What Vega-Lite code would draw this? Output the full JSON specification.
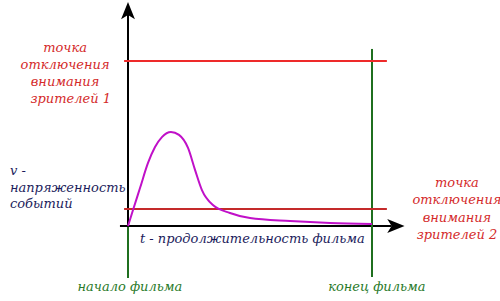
{
  "$schema": "https://vega.github.io/schema/vega-lite/v6.json",
  "width": 500,
  "height": 301,
  "padding": 0,
  "autosize": "none",
  "background": "white",
  "config": {"view": {"stroke": null}},
  "resolve": {"scale": {"color": "independent"}},
  "datasets": {
    "segments": [
      {"item": "ось v", "kind": "axis", "t": 0, "t2": 0, "v": -1.2, "v2": 128},
      {"item": "ось t", "kind": "axis", "t": -3.3, "t2": 108, "v": 0, "v2": 0},
      {"item": "начало фильма", "kind": "film", "t": 0, "t2": 0, "v": -0.5, "v2": -31.5},
      {"item": "конец фильма", "kind": "film", "t": 100, "t2": 100, "v": 107.3, "v2": -30.9},
      {"item": "порог 1", "kind": "limit1", "t": -1.6, "t2": 106.1, "v": 100, "v2": 100},
      {"item": "порог 2", "kind": "limit2", "t": -1.6, "t2": 106.1, "v": 10.3, "v2": 10.3}
    ],
    "arrows": [
      {"axis": "v", "t": 0, "v": 130.5, "angle": 0},
      {"axis": "t", "t": 109.8, "v": 0, "angle": 90}
    ],
    "curve": [
      {"t": 0, "v": 0},
      {"t": 2.05, "v": 9.7},
      {"t": 4.92, "v": 23.0},
      {"t": 8.2, "v": 38.2},
      {"t": 11.07, "v": 47.9},
      {"t": 13.9, "v": 53.9},
      {"t": 17.6, "v": 57.0},
      {"t": 20.9, "v": 55.2},
      {"t": 24.6, "v": 47.3},
      {"t": 27.5, "v": 33.9},
      {"t": 30.3, "v": 21.8},
      {"t": 34.8, "v": 12.7},
      {"t": 41.8, "v": 7.9},
      {"t": 50, "v": 4.8},
      {"t": 66.4, "v": 3.0},
      {"t": 82.8, "v": 1.8},
      {"t": 100, "v": 1.2}
    ],
    "labels": [
      {"group": "limit", "text": "точка", "t": -25.8, "v": 107.9, "align": "center"},
      {"group": "limit", "text": "отключения", "t": -25.8, "v": 97.6, "align": "center"},
      {"group": "limit", "text": "внимания", "t": -25.8, "v": 87.3, "align": "center"},
      {"group": "limit", "text": "зрителей  1", "t": -23.5, "v": 77.0, "align": "center"},
      {"group": "limit", "text": "точка", "t": 134.8, "v": 26.1, "align": "center"},
      {"group": "limit", "text": "отключения", "t": 134.8, "v": 15.8, "align": "center"},
      {"group": "limit", "text": "внимания", "t": 134.8, "v": 5.0, "align": "center"},
      {"group": "limit", "text": "зрителей 2", "t": 134.8, "v": -5.5, "align": "center"},
      {"group": "variable", "text": "v -", "t": -48.4, "v": 33.3, "align": "left"},
      {"group": "variable", "text": "напряженность", "t": -48.4, "v": 23.0, "align": "left"},
      {"group": "variable", "text": "событий", "t": -48.4, "v": 13.3, "align": "left"},
      {"group": "variable", "text": "t  - продолжительность фильма", "t": 4.9, "v": -7.9, "align": "left"},
      {"group": "film", "text": "начало фильма", "t": 0.8, "v": -37, "align": "center"},
      {"group": "film", "text": "конец фильма", "t": 102, "v": -37, "align": "center"}
    ]
  },
  "layer": [
    {
      "data": {"name": "segments"},
      "mark": {"type": "rule", "strokeWidth": 2},
      "encoding": {
        "x": {"field": "t", "type": "quantitative", "scale": {"domain": [-52.46, 152.46], "nice": false, "zero": false}, "axis": null},
        "x2": {"field": "t2"},
        "y": {"field": "v", "type": "quantitative", "scale": {"domain": [-45.45, 136.97], "nice": false, "zero": false}, "axis": null},
        "y2": {"field": "v2"},
        "color": {"field": "kind", "type": "nominal", "legend": null,
          "scale": {"domain": ["axis", "film", "limit1", "limit2"], "range": ["#000000", "#1f6f1f", "#ee2a2a", "#c42a2a"]}}
      }
    },
    {
      "data": {"name": "curve"},
      "mark": {"type": "line", "color": "#c010c8", "strokeWidth": 2, "interpolate": "monotone"},
      "encoding": {
        "x": {"field": "t", "type": "quantitative"},
        "y": {"field": "v", "type": "quantitative"}
      }
    },
    {
      "data": {"name": "arrows"},
      "mark": {"type": "point", "shape": "M0,-1L0.8,1L0,0.5L-0.8,1Z", "filled": true, "color": "#000000", "size": 300, "opacity": 1},
      "encoding": {
        "x": {"field": "t", "type": "quantitative"},
        "y": {"field": "v", "type": "quantitative"},
        "angle": {"field": "angle", "type": "quantitative", "scale": null}
      }
    },
    {
      "data": {"name": "labels"},
      "layer": [
        {
          "transform": [{"filter": "datum.align === 'center'"}],
          "mark": {"type": "text", "font": "DejaVu Serif", "fontStyle": "italic", "fontSize": 13, "align": "center", "baseline": "middle"},
          "encoding": {
            "x": {"field": "t", "type": "quantitative"},
            "y": {"field": "v", "type": "quantitative"},
            "text": {"field": "text"},
            "color": {"field": "group", "type": "nominal", "legend": null,
              "scale": {"domain": ["limit", "variable", "film"], "range": ["#d42a2a", "#1c1c5c", "#2a7a2a"]}}
          }
        },
        {
          "transform": [{"filter": "datum.align === 'left'"}],
          "mark": {"type": "text", "font": "DejaVu Serif", "fontStyle": "italic", "fontSize": 13, "align": "left", "baseline": "middle"},
          "encoding": {
            "x": {"field": "t", "type": "quantitative"},
            "y": {"field": "v", "type": "quantitative"},
            "text": {"field": "text"},
            "color": {"field": "group", "type": "nominal", "legend": null,
              "scale": {"domain": ["limit", "variable", "film"], "range": ["#d42a2a", "#1c1c5c", "#2a7a2a"]}}
          }
        }
      ]
    }
  ]
}
